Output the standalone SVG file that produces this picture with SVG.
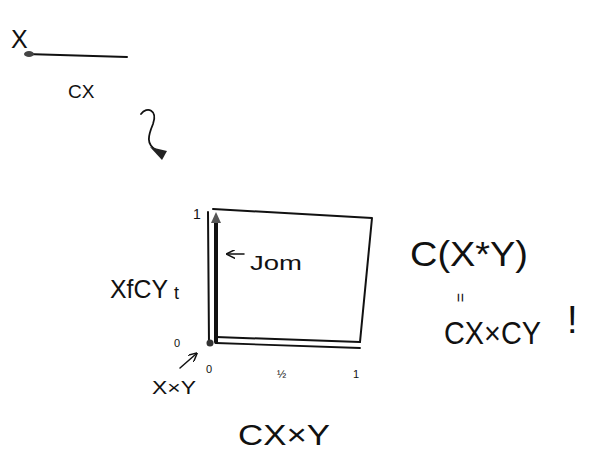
<svg xmlns="http://www.w3.org/2000/svg" width="589" height="466" viewBox="0 0 589 466">
<style>
text{font-family:"Liberation Sans","DejaVu Sans",sans-serif;fill:#111}
.s{fill:none;stroke:#111;stroke-linecap:round;stroke-linejoin:round}
</style>
<defs>
<marker id="ah" viewBox="0 0 10 10" refX="8" refY="5" markerWidth="6" markerHeight="6" orient="auto-start-reverse"><path d="M0,0 L10,5 L0,10" fill="none" stroke="#111" stroke-width="1.6"/></marker>
</defs>
<rect width="589" height="466" fill="#fff"/>

<g id="path-X">
<text x="11" y="48" font-size="25">X</text>
<path class="s" d="M26,54 L127,57" stroke-width="2"/>
<ellipse cx="29" cy="54" rx="5" ry="3" fill="#444"/>
<text x="68" y="98" font-size="19">CX</text>
</g>

<g id="connectors">
<path class="s" stroke-width="1.8" d="M141,114 C147,106 158,110 153,124 C148,136 146,144 156,150"/>
<path d="M150,147 L167,151 L162,160 Z" fill="#222"/>
<path class="s" stroke-width="1.5" d="M244,254 L228,254" marker-end="url(#ah)"/>
<path class="s" stroke-width="1.5" d="M180,368 L196,354" marker-end="url(#ah)"/>
</g>

<g id="square">
<path class="s" stroke-width="2" d="M213,209 L372,218 L360,342"/>
<path class="s" stroke-width="2" d="M216,337 L360,342"/>
<path class="s" stroke-width="1.8" d="M216,343 L360,348"/>
<path class="s" stroke-width="2" d="M208,212 L209,344"/>
<path class="s" stroke="#666" stroke-width="4" d="M216,342 L216,220"/>
<path d="M211,223 L216,212 L221,223 Z" fill="#555"/>
<circle cx="210" cy="343" r="3.5" fill="#333"/>
<text x="193" y="219" font-size="14">1</text>
<text x="174" y="347" font-size="11">0</text>
<text x="206" y="373" font-size="11">0</text>
<text x="277" y="378" font-size="11">½</text>
<text x="353" y="378" font-size="11">1</text>
</g>

<g id="join">
<text x="250" y="270" font-size="21" textLength="52" lengthAdjust="spacingAndGlyphs">Jom</text>
</g>

<g id="XfCY">
<text x="110" y="298" font-size="25" textLength="58" lengthAdjust="spacingAndGlyphs">XfCY</text>
<text x="174" y="299" font-size="18">t</text>
</g>

<g id="XxY">
<text x="152" y="394" font-size="18" textLength="44" lengthAdjust="spacingAndGlyphs">X×Y</text>
</g>

<g id="CXxY">
<text x="238" y="445" font-size="29" textLength="92" lengthAdjust="spacingAndGlyphs">CX×Y</text>
</g>

<g id="CXY">
<text x="410" y="266" font-size="35" textLength="118" lengthAdjust="spacingAndGlyphs">C(X*Y)</text>
<text x="0" y="0" font-size="16" transform="translate(455,293) rotate(90)">=</text>
<text x="444" y="344" font-size="31" textLength="97" lengthAdjust="spacingAndGlyphs">CX×CY</text>
<text x="567" y="333" font-size="38">!</text>
</g>
</svg>
